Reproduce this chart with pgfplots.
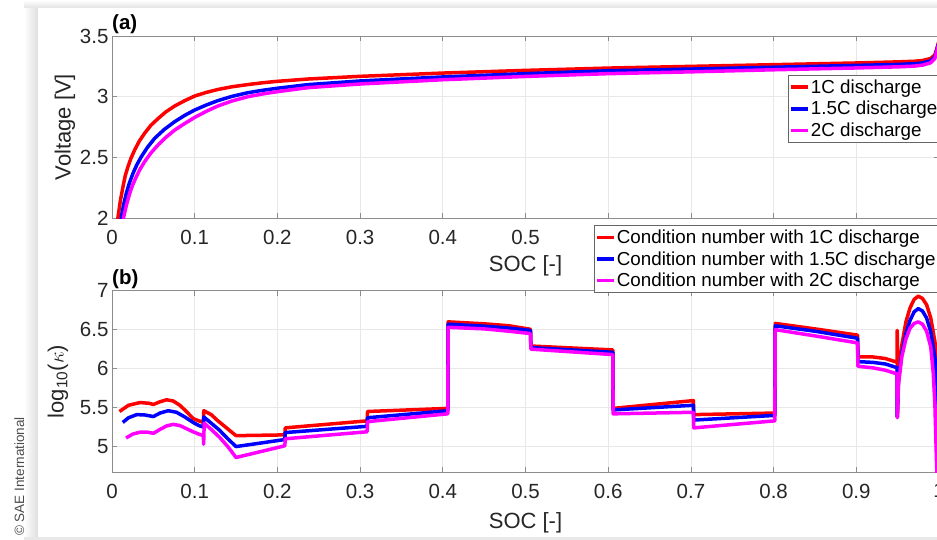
\documentclass[border=0pt]{standalone}
\usepackage{fontspec}
\setmainfont{Liberation Sans}
\usepackage{pgfplots}
\pgfplotsset{compat=1.18}

\definecolor{mred}{rgb}{1,0,0}
\definecolor{mblue}{rgb}{0,0,1}
\definecolor{mmag}{rgb}{1,0,1}

\pgfplotsset{
  matlab/.style={
    scale only axis, width=827pt,
    xmin=0, xmax=1, clip mode=individual,
    xtick={0,0.1,0.2,0.3,0.4,0.5,0.6,0.7,0.8,0.9,1},
    grid=major,
    major grid style={draw=black!9, line width=0.7pt},
    axis line style={draw=black!45, line width=0.8pt},
    tick style={draw=black!45, line width=0.8pt},
    major tick length=5pt, tick align=inside,
    ticklabel style={font=\fontsize{20.5}{24}\selectfont, text=black!85},
    xticklabel style={yshift=-8pt},
    label style={font=\fontsize{22}{26}\selectfont, text=black!85},
    /pgf/number format/assume math mode=true,
    legend image code/.code={\draw[line width=3.5pt] (0pt,0pt) -- (17pt,0pt);},
    legend cell align=left,
    legend style={draw=black!60, line width=0.8pt, fill=white,
      font=\fontsize{18.8}{22}\selectfont, text=black,
      inner xsep=1pt, inner ysep=1pt, row sep=0pt,
      nodes={inner xsep=1pt, inner ysep=3.3pt}},
    every axis plot/.append style={line width=3.5pt, line join=round},
  }
}

\begin{document}
\begin{tikzpicture}[x=1pt, y=1pt]
% page background with a soft shadow round the white panel
\fill[white] (0,0) rectangle (937,540);
\shade[left color=white, right color=black!13] (24,0) rectangle (38,540);
\shade[bottom color=black!11, top color=white] (24,532) rectangle (937,540);
\fill[black!9] (24,0) rectangle (937,2.5);
\fill[white] (38,2.5) rectangle (937,532);
\node[rotate=90, anchor=mid west, inner sep=0, text=black!70,
      font=\fontsize{13.5}{16}\selectfont] at (21.5,4) {© SAE International};

% (a) terminal voltage
\begin{axis}[matlab, at={(112pt,321.7pt)}, anchor=south west,
  height=182.3pt, ymin=2, ymax=3.5, ytick={2,2.5,3,3.5},
  xlabel={SOC [-]}, ylabel={Voltage [V]},
  xlabel style={at={(axis description cs:0.5,-0.263)}, anchor=center},
  ylabel style={at={(axis description cs:-0.0568,0.5)}, anchor=center, rotate=0},
  legend style={at={(axis description cs:0.8174,0.7865)}, anchor=north west}]
\addplot[mred] coordinates {
(0.0060,1.95) (0.0073,2.01) (0.0100,2.14) (0.0133,2.26) (0.0160,2.35)
(0.0193,2.424) (0.0230,2.495) (0.0274,2.562) (0.0330,2.635) (0.0395,2.70)
(0.0470,2.765) (0.0556,2.82) (0.0650,2.875) (0.0758,2.924) (0.0880,2.968)
(0.1,3.006) (0.114,3.036) (0.128,3.06) (0.145,3.082) (0.164,3.10)
(0.182,3.115) (0.2,3.127) (0.237,3.146) (0.3,3.168) (0.4,3.195)
(0.5,3.217) (0.6,3.236) (0.7,3.25) (0.8,3.264) (0.9,3.278) (0.95,3.287)
(0.97,3.292) (0.98,3.298) (0.99,3.315) (0.995,3.345) (0.9975,3.40) (1.0,3.46)};
\addlegendentry{1C discharge}
\addplot[mblue] coordinates {
(0.0100,1.95) (0.0113,2.01) (0.0140,2.11) (0.0173,2.205) (0.0210,2.29)
(0.0254,2.37) (0.0300,2.44) (0.0355,2.507) (0.0430,2.585) (0.0516,2.658)
(0.0630,2.73) (0.0758,2.795) (0.0880,2.847) (0.1,2.891) (0.114,2.932)
(0.128,2.968) (0.145,3.003) (0.164,3.033) (0.182,3.053) (0.2,3.07)
(0.237,3.10) (0.3,3.13) (0.4,3.163) (0.5,3.19) (0.6,3.214) (0.7,3.228)
(0.8,3.243) (0.9,3.258) (0.95,3.266) (0.97,3.272) (0.98,3.278) (0.99,3.296)
(0.995,3.33) (0.9975,3.39) (1.0,3.45)};
\addlegendentry{1.5C discharge}
\addplot[mmag] coordinates {
(0.0128,1.95) (0.0141,2.01) (0.0175,2.11) (0.0214,2.205) (0.0250,2.275)
(0.0294,2.342) (0.0340,2.405) (0.0395,2.466) (0.0470,2.537) (0.0556,2.603)
(0.0650,2.665) (0.0758,2.726) (0.0880,2.78) (0.1,2.83) (0.114,2.88)
(0.128,2.924) (0.145,2.965) (0.164,3.0) (0.182,3.023) (0.2,3.042)
(0.237,3.075) (0.3,3.105) (0.4,3.14) (0.5,3.167) (0.6,3.19) (0.7,3.205)
(0.8,3.222) (0.9,3.237) (0.95,3.246) (0.97,3.252) (0.98,3.26) (0.99,3.28)
(0.995,3.315) (0.9975,3.38) (1.0,3.44)};
\addlegendentry{2C discharge}
\node[anchor=base west, inner sep=0, font=\fontsize{20.5}{24}\selectfont\bfseries]
  at (rel axis cs:0,1) [yshift=6pt] {(a)};
\end{axis}

% (b) condition number
\begin{axis}[matlab, at={(112pt,67.7pt)}, anchor=south west,
  height=181.6pt, ymin=4.67, ymax=7, ytick={5,5.5,6,6.5,7},
  xlabel={SOC [-]}, ylabel={log\textsubscript{10}($\kappa$)},
  xlabel style={at={(axis description cs:0.5,-0.279)}, anchor=center},
  ylabel style={at={(axis description cs:-0.0653,0.5)}, anchor=center, rotate=0},
  legend style={at={(axis description cs:0.5828,1.3618)}, anchor=north west}]
\addplot[mred] coordinates {
(0.009,5.45) (0.02,5.53) (0.034,5.565) (0.045,5.555) (0.05,5.54) (0.058,5.575)
(0.066,5.60) (0.074,5.585) (0.082,5.53) (0.09,5.45) (0.098,5.36) (0.105,5.33)
(0.1105,5.31) (0.111,5.46) (0.12,5.41) (0.127,5.34) (0.135,5.27) (0.143,5.20)
(0.15,5.14) (0.209,5.15) (0.2095,5.24) (0.3085,5.33) (0.309,5.45) (0.406,5.49)
(0.4065,6.60) (0.45,6.575) (0.48,6.55) (0.506,6.505) (0.5065,6.29) (0.6055,6.24)
(0.606,5.49) (0.703,5.59) (0.7035,5.41) (0.8015,5.43) (0.802,6.58) (0.85,6.51)
(0.9015,6.43) (0.902,6.15) (0.92,6.15) (0.935,6.13) (0.947,6.09) (0.9494,6.08)
(0.9495,6.49) (0.9497,5.38) (0.951,5.90) (0.955,6.30) (0.96,6.60) (0.965,6.78)
(0.97,6.89) (0.975,6.93) (0.98,6.90) (0.985,6.82) (0.99,6.65) (0.995,6.35)
(0.997,6.15) (1.0,5.7)};
\addlegendentry{Condition number with 1C discharge}
\addplot[mblue] coordinates {
(0.013,5.31) (0.02,5.37) (0.03,5.41) (0.04,5.405) (0.05,5.385) (0.058,5.43)
(0.068,5.46) (0.078,5.44) (0.088,5.38) (0.098,5.31) (0.105,5.27) (0.1105,5.25)
(0.111,5.38) (0.12,5.30) (0.13,5.21) (0.14,5.10) (0.15,5.00) (0.209,5.09)
(0.2095,5.18) (0.3085,5.26) (0.309,5.37) (0.406,5.46) (0.4065,6.57) (0.45,6.545)
(0.48,6.52) (0.506,6.49) (0.5065,6.27) (0.6055,6.21) (0.606,5.47) (0.703,5.53)
(0.7035,5.34) (0.8015,5.40) (0.802,6.55) (0.85,6.48) (0.9015,6.39) (0.902,6.09)
(0.92,6.08) (0.935,6.06) (0.947,6.02) (0.9494,6.01) (0.9495,5.38) (0.951,5.85)
(0.955,6.20) (0.96,6.45) (0.965,6.62) (0.97,6.73) (0.975,6.77) (0.98,6.74)
(0.985,6.65) (0.99,6.47) (0.995,6.15) (0.997,5.9) (1.0,5.3)};
\addlegendentry{Condition number with 1.5C discharge}
\addplot[mmag] coordinates {
(0.017,5.11) (0.025,5.16) (0.034,5.185) (0.043,5.185) (0.05,5.17) (0.058,5.22)
(0.066,5.265) (0.074,5.285) (0.082,5.27) (0.09,5.23) (0.098,5.19) (0.105,5.16)
(0.1105,5.14) (0.1108,5.03) (0.1115,5.30) (0.12,5.22) (0.13,5.12) (0.14,5.00)
(0.15,4.86) (0.209,5.01) (0.2095,5.10) (0.3085,5.19) (0.309,5.32) (0.406,5.42)
(0.4065,6.53) (0.45,6.51) (0.48,6.48) (0.506,6.45) (0.5065,6.25) (0.6055,6.18)
(0.606,5.42) (0.703,5.44) (0.7035,5.24) (0.8015,5.33) (0.802,6.50) (0.85,6.42)
(0.9015,6.33) (0.902,6.03) (0.92,6.01) (0.935,5.98) (0.947,5.94) (0.9494,5.93)
(0.9496,5.37) (0.951,5.80) (0.955,6.15) (0.96,6.38) (0.965,6.52) (0.97,6.58)
(0.975,6.60) (0.98,6.57) (0.985,6.48) (0.99,6.28) (0.993,5.95) (0.995,5.55)
(0.997,4.80) (1.0,4.0)};
\addlegendentry{Condition number with 2C discharge}
\node[anchor=base west, inner sep=0, font=\fontsize{20.5}{24}\selectfont\bfseries]
  at (rel axis cs:0,1) [yshift=6.5pt] {(b)};
\end{axis}

\pgfresetboundingbox
\path[use as bounding box] (0,0) rectangle (937,540);
\end{tikzpicture}
\end{document}
